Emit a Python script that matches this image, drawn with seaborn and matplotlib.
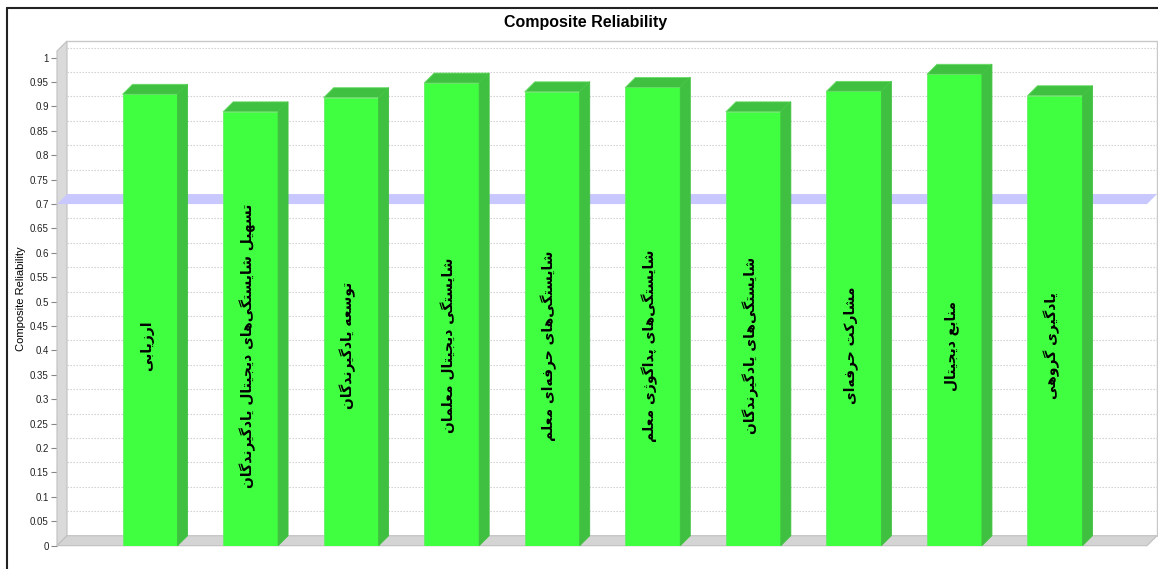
import numpy as np
import pandas as pd
import matplotlib
matplotlib.use('Agg')
import matplotlib.pyplot as plt
import seaborn as sns
from matplotlib.patches import Polygon
from matplotlib.lines import Line2D

# construct names (Persian) and their composite reliability values
constructs = [
    'ارزیابی',
    'تسهیل شایستگی‌های دیجیتال یادگیرندگان',
    'توسعه یادگیرندگان',
    'شایستگی دیجیتال معلمان',
    'شایستگی‌های حرفه‌ای معلم',
    'شایستگی‌های پداگوژی معلم',
    'شایستگی‌های یادگیرندگان',
    'مشارکت حرفه‌ای',
    'منابع دیجیتال',
    'یادگیری گروهی',
]
composite_reliability = [0.925, 0.889, 0.918, 0.948, 0.930, 0.939, 0.889, 0.931, 0.966, 0.922]
threshold = 0.7
y_tick_values = [0, 0.05, 0.1, 0.15, 0.2, 0.25, 0.3, 0.35, 0.4, 0.45, 0.5,
                 0.55, 0.6, 0.65, 0.7, 0.75, 0.8, 0.85, 0.9, 0.95, 1]
y_tick_labels = ['0', '0.05', '0.1', '0.15', '0.2', '0.25', '0.3', '0.35', '0.4', '0.45', '0.5',
                 '0.55', '0.6', '0.65', '0.7', '0.75', '0.8', '0.85', '0.9', '0.95', '1']

# minimal Persian shaping (matplotlib has no bidi / joining support)
# char -> (isolated, final, initial, medial); right-joining letters have no initial/medial
FORMS = {
    'ا': (0xFE8D, 0xFE8E, None, None), 'آ': (0xFE81, 0xFE82, None, None),
    'ب': (0xFE8F, 0xFE90, 0xFE91, 0xFE92), 'پ': (0xFB56, 0xFB57, 0xFB58, 0xFB59),
    'ت': (0xFE95, 0xFE96, 0xFE97, 0xFE98), 'ج': (0xFE9D, 0xFE9E, 0xFE9F, 0xFEA0),
    'ح': (0xFEA1, 0xFEA2, 0xFEA3, 0xFEA4), 'د': (0xFEA9, 0xFEAA, None, None),
    'ر': (0xFEAD, 0xFEAE, None, None), 'ز': (0xFEAF, 0xFEB0, None, None),
    'ژ': (0xFB8A, 0xFB8B, None, None), 'س': (0xFEB1, 0xFEB2, 0xFEB3, 0xFEB4),
    'ش': (0xFEB5, 0xFEB6, 0xFEB7, 0xFEB8), 'ع': (0xFEC9, 0xFECA, 0xFECB, 0xFECC),
    'ف': (0xFED1, 0xFED2, 0xFED3, 0xFED4), 'ک': (0xFB8E, 0xFB8F, 0xFB90, 0xFB91),
    'گ': (0xFB92, 0xFB93, 0xFB94, 0xFB95), 'ل': (0xFEDD, 0xFEDE, 0xFEDF, 0xFEE0),
    'م': (0xFEE1, 0xFEE2, 0xFEE3, 0xFEE4), 'ن': (0xFEE5, 0xFEE6, 0xFEE7, 0xFEE8),
    'و': (0xFEED, 0xFEEE, None, None), 'ه': (0xFEE9, 0xFEEA, 0xFEEB, 0xFEEC),
    'ی': (0xFBFC, 0xFBFD, 0xFBFE, 0xFBFF),
}


def shape(text):
    out = []
    for i, ch in enumerate(text):
        if ch not in FORMS:
            out.append(ch)
            continue
        prev = text[i - 1] if i > 0 else None
        nxt = text[i + 1] if i + 1 < len(text) else None
        join_prev = prev in FORMS and FORMS[prev][2] is not None
        join_next = nxt in FORMS and FORMS[ch][2] is not None
        f = FORMS[ch]
        if join_prev and join_next:
            g = f[3]
        elif join_prev:
            g = f[1]
        elif join_next:
            g = f[2]
        else:
            g = f[0]
        out.append(chr(g))
    return ''.join(c for c in reversed(out) if c != '\u200c')


sns.set_style('white')
plt.rcParams['font.family'] = ['Liberation Sans', 'DejaVu Sans']

W, H = 1158, 569
fig = plt.figure(figsize=(W / 100, H / 100), dpi=100)
ax = fig.add_axes([57 / W, (H - 545.7) / H, 1090 / W, 494.7 / H])

df = pd.DataFrame({'construct': constructs, 'cr': composite_reliability})
sns.barplot(data=df, x='construct', y='cr', color='#40ff40', saturation=1, width=0.547,
            edgecolor='#66ee66', linewidth=0.6, ax=ax, zorder=4)

xlo, xhi = -0.925, 9.915
ytop = 1.0137
ax.set_xlim(xlo, xhi)
ax.set_ylim(0, ytop)
# 3D depth offset (10 px) in data units
ddx = 10 / 1090 * (xhi - xlo)
ddy = 10 / 494.7 * ytop

# bar tops and sides
for p in list(ax.patches):
    x0, w, h = p.get_x(), p.get_width(), p.get_height()
    top = Polygon([(x0, h), (x0 + w, h), (x0 + w + ddx, h + ddy), (x0 + ddx, h + ddy)],
                  closed=True, facecolor='#40c040', edgecolor='#66dd66', lw=0.6, zorder=4, clip_on=False)
    side = Polygon([(x0 + w, 0), (x0 + w, h), (x0 + w + ddx, h + ddy), (x0 + w + ddx, ddy)],
                   closed=True, facecolor='#40c040', edgecolor='#40c040', lw=0.6, zorder=4, clip_on=False)
    ax.add_patch(top)
    ax.add_patch(side)

# walls and floor
ax.add_patch(Polygon([(xlo, 0), (xlo, ytop), (xlo + ddx, ytop + ddy), (xlo + ddx, ddy)],
                     closed=True, facecolor='#dadada', edgecolor='#c0c0c0', lw=0.8, zorder=1, clip_on=False))
ax.add_patch(Polygon([(xlo, 0), (xhi, 0), (xhi + ddx, ddy), (xlo + ddx, ddy)],
                     closed=True, facecolor='#d4d4d4', edgecolor='#c0c0c0', lw=0.8, zorder=1, clip_on=False))
ax.plot([xlo + ddx, xhi + ddx, xhi + ddx], [ytop + ddy, ytop + ddy, ddy],
        color='#c8c8c8', lw=1.0, zorder=1, clip_on=False)

# dotted gridlines on the back wall
for t in y_tick_values[1:]:
    ax.plot([xlo + ddx, xhi + ddx], [t + ddy, t + ddy], color='#cccccc', lw=0.8,
            ls=(0, (1.2, 1.5)), zorder=1, clip_on=False)

# threshold plane at 0.7
ax.add_patch(Polygon([(xlo, threshold), (xhi, threshold), (xhi + ddx, threshold + ddy),
                      (xlo + ddx, threshold + ddy)],
                     closed=True, facecolor='#c8c8ff', edgecolor='none', zorder=2, clip_on=False))

# construct names inside the bars
for i, name in enumerate(constructs):
    ax.text(i - 0.03, 0.41, shape(name), rotation=90, ha='center', va='center',
            fontsize=10, fontweight='bold', family='DejaVu Sans', color='black', zorder=6)

ax.set_xticks([])
ax.set_xlabel('')
ax.set_yticks(y_tick_values)
ax.set_yticklabels(y_tick_labels)
ax.tick_params(axis='y', left=True, length=4, width=0.8, color='#888888', labelsize=7,
               labelcolor='#222222', pad=2)
ax.set_ylabel('Composite Reliability', fontsize=8, labelpad=3, color='black')
for s in ax.spines.values():
    s.set_visible(False)

fig.text(586 / W, 1 - 22 / H, 'Composite Reliability', ha='center', va='center',
         fontsize=11.5, fontweight='bold', color='black')

# outer frame (left and top edges)
fig.add_artist(Line2D([7 / W, 7 / W], [0, 1 - 8 / H], transform=fig.transFigure, color='#222222', lw=1.5))
fig.add_artist(Line2D([7 / W, 1], [1 - 8 / H, 1 - 8 / H], transform=fig.transFigure, color='#222222', lw=1.5))

fig.savefig('out.png', dpi=100)
